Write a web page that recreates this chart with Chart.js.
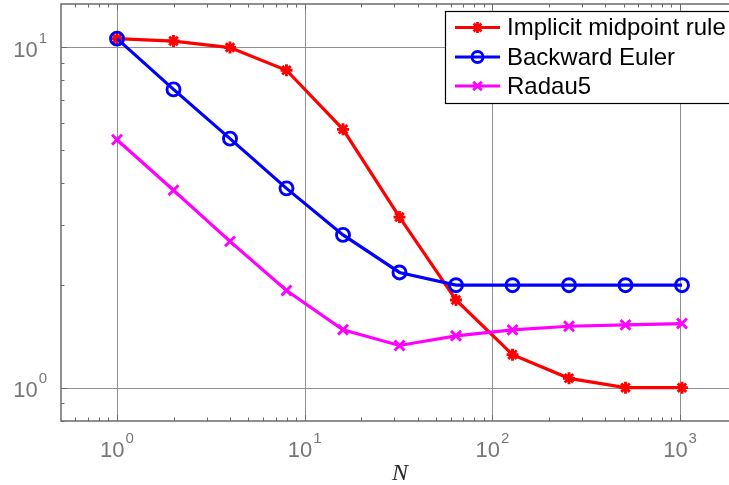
<!DOCTYPE html>
<html>
<head>
<meta charset="utf-8">
<script src="https://cdn.jsdelivr.net/npm/chart.js@4/dist/chart.umd.min.js"></script>
<style>
html,body{margin:0;padding:0;background:#fff;overflow:hidden;}
#wrap{position:relative;width:729px;height:485px;}
</style>
</head>
<body>
<div id="wrap"><canvas id="c" width="729" height="485"></canvas></div>
<script>
// ---- data ----
const categories = [1, 2, 4, 8, 16, 32, 64, 128, 256, 512, 1024];
const implicitMidpoint = [10.6, 10.43, 9.98, 8.56, 5.74, 3.17, 1.81, 1.25, 1.065, 1.0, 1.0];
const backwardEuler = [10.6, 7.52, 5.39, 3.85, 2.81, 2.18, 2.0, 2.0, 2.0, 2.0, 2.0];
const radau5 = [5.35, 3.8, 2.69, 1.93, 1.48, 1.33, 1.42, 1.478, 1.515, 1.529, 1.543];
const seriesNames = ['Implicit midpoint rule', 'Backward Euler', 'Radau5'];
const xTickValues = [1, 10, 100, 1000];
const xTickExponents = ['0', '1', '2', '3'];
const yTickValues = [1, 10];
const yTickExponents = ['0', '1'];
const xAxisTitle = 'N';

const toPts = arr => categories.map((x, i) => ({x: x, y: arr[i]}));

const styles = [
  {color: '#ff0000', point: 'star', radius: 6},
  {color: '#0000ff', point: 'circle', radius: 6.5},
  {color: '#ff00ff', point: 'crossRot', radius: 7}
];

function drawMarker(ctx, style, x, y, r) {
  ctx.save();
  ctx.strokeStyle = style.color;
  ctx.lineWidth = 2.8;
  ctx.beginPath();
  if (style.point === 'circle') {
    ctx.arc(x, y, r, 0, Math.PI * 2);
  } else {
    const d = r * Math.SQRT1_2;
    if (style.point === 'star') {
      ctx.moveTo(x - r, y); ctx.lineTo(x + r, y);
      ctx.moveTo(x, y - r); ctx.lineTo(x, y + r);
    }
    ctx.moveTo(x - d, y - d); ctx.lineTo(x + d, y + d);
    ctx.moveTo(x - d, y + d); ctx.lineTo(x + d, y - d);
  }
  ctx.stroke();
  ctx.restore();
}

function minorValues(min, max) {
  const out = [];
  for (let e = Math.floor(Math.log10(min)); e <= Math.ceil(Math.log10(max)); e++) {
    for (let m = 2; m <= 9; m++) {
      const v = m * Math.pow(10, e);
      if (v >= min && v <= max) out.push(v);
    }
  }
  return out;
}

const axesPlugin = {
  id: 'matlabAxes',
  beforeDatasetsDraw(chart) {
    const {ctx, chartArea: a, scales: {x, y}} = chart;
    ctx.save();
    ctx.strokeStyle = '#8f8f8f';
    ctx.lineWidth = 1;
    xTickValues.forEach(v => {
      const px = Math.round(x.getPixelForValue(v)) + 0.5;
      ctx.beginPath(); ctx.moveTo(px, a.top); ctx.lineTo(px, a.bottom); ctx.stroke();
    });
    yTickValues.forEach(v => {
      const py = Math.round(y.getPixelForValue(v)) + 0.5;
      ctx.beginPath(); ctx.moveTo(a.left, py); ctx.lineTo(a.right, py); ctx.stroke();
    });
    ctx.restore();
  },
  afterDatasetsDraw(chart) {
    const {ctx, chartArea: a, scales: {x, y}} = chart;
    ctx.save();
    // axis box (left, bottom, top)
    ctx.strokeStyle = '#6b6b6b';
    ctx.lineWidth = 1.5;
    ctx.beginPath();
    ctx.moveTo(a.right, a.top); ctx.lineTo(a.left, a.top);
    ctx.lineTo(a.left, a.bottom); ctx.lineTo(a.right, a.bottom);
    ctx.stroke();
    // ticks inside
    ctx.lineWidth = 1;
    const xmin = minorValues(x.min, x.max);
    const ymin = minorValues(y.min, y.max);
    ctx.beginPath();
    xmin.forEach(v => {
      if (v > 1000) return;
      const px = Math.round(x.getPixelForValue(v)) + 0.5;
      ctx.moveTo(px, a.bottom); ctx.lineTo(px, a.bottom - 3.5);
      ctx.moveTo(px, a.top); ctx.lineTo(px, a.top + 3.5);
    });
    xTickValues.forEach(v => {
      const px = Math.round(x.getPixelForValue(v)) + 0.5;
      ctx.moveTo(px, a.bottom); ctx.lineTo(px, a.bottom - 6);
      ctx.moveTo(px, a.top); ctx.lineTo(px, a.top + 6);
    });
    ymin.forEach(v => {
      if (v > 10) return;
      const py = Math.round(y.getPixelForValue(v)) + 0.5;
      ctx.moveTo(a.left, py); ctx.lineTo(a.left + 3.5, py);
    });
    yTickValues.forEach(v => {
      const py = Math.round(y.getPixelForValue(v)) + 0.5;
      ctx.moveTo(a.left, py); ctx.lineTo(a.left + 6, py);
    });
    ctx.stroke();

    // tick labels 10^k
    const bigFont = '22px "Liberation Sans", Arial, sans-serif';
    const supFont = '15px "Liberation Sans", Arial, sans-serif';
    ctx.fillStyle = '#777777';
    ctx.textBaseline = 'alphabetic';
    ctx.textAlign = 'left';
    xTickValues.forEach((v, i) => {
      const px = x.getPixelForValue(v);
      ctx.font = bigFont; const w1 = ctx.measureText('10').width;
      ctx.font = supFont; const w2 = ctx.measureText(xTickExponents[i]).width;
      const x0 = px - (w1 + 1 + w2) / 2;
      ctx.font = bigFont; ctx.fillText('10', x0, 457);
      ctx.font = supFont; ctx.fillText(xTickExponents[i], x0 + w1 + 1, 443);
    });
    yTickValues.forEach((v, i) => {
      const py = y.getPixelForValue(v);
      ctx.font = supFont; const w2 = ctx.measureText(yTickExponents[i]).width;
      ctx.font = bigFont; const w1 = ctx.measureText('10').width;
      const right = a.left - 14;
      const x0 = right - w2 - 1 - w1;
      ctx.fillText('10', x0, py + 9.5);
      ctx.font = supFont; ctx.fillText(yTickExponents[i], x0 + w1 + 1, py - 4.5);
    });
    // x axis title
    ctx.fillStyle = '#262626';
    ctx.font = 'italic 24px "Liberation Serif", "Times New Roman", serif';
    ctx.textAlign = 'center';
    ctx.fillText(xAxisTitle, 400, 480);

    // legend
    const lx = 445, ly = 11, lw = 290, lh = 92;
    ctx.fillStyle = '#ffffff';
    ctx.fillRect(lx, ly, lw, lh);
    ctx.strokeStyle = '#000000';
    ctx.lineWidth = 1.2;
    ctx.strokeRect(lx + 0.5, ly + 0.5, lw, lh);
    const rows = [27.5, 57, 86];
    ctx.font = '24px "Liberation Sans", Arial, sans-serif';
    ctx.textAlign = 'left';
    ctx.textBaseline = 'middle';
    seriesNames.forEach((name, i) => {
      const s = styles[i];
      const ry = rows[i];
      ctx.strokeStyle = s.color;
      ctx.lineWidth = 3;
      ctx.beginPath(); ctx.moveTo(455, ry); ctx.lineTo(500, ry); ctx.stroke();
      drawMarker(ctx, s, 477.5, ry, i === 2 ? 6 : 5.5);
      ctx.fillStyle = '#000';
      ctx.fillText(name, 507, ry + 1);
    });
    ctx.restore();
  }
};

const seriesData = [implicitMidpoint, backwardEuler, radau5];
new Chart(document.getElementById('c'), {
  type: 'line',
  data: {
    datasets: seriesNames.map((name, i) => ({
      label: name,
      data: toPts(seriesData[i]),
      order: 3 - i,
      borderColor: styles[i].color,
      backgroundColor: 'rgba(0,0,0,0)',
      borderWidth: 3.2,
      pointStyle: styles[i].point,
      pointRadius: styles[i].radius,
      pointBorderWidth: 2.9,
      pointBorderColor: styles[i].color,
      pointBackgroundColor: 'rgba(0,0,0,0)',
      tension: 0,
      clip: false
    }))
  },
  options: {
    responsive: false,
    animation: false,
    devicePixelRatio: 1,
    layout: {autoPadding: false, padding: {left: 61, top: 4, right: 0, bottom: 64}},
    plugins: {legend: {display: false}, tooltip: {enabled: false}},
    scales: {
      x: {
        type: 'logarithmic', min: 0.503, max: 1823, display: false
      },
      y: {
        type: 'logarithmic', min: 0.798, max: 13.4, display: false
      }
    }
  },
  plugins: [axesPlugin]
});
</script>
</body>
</html>
